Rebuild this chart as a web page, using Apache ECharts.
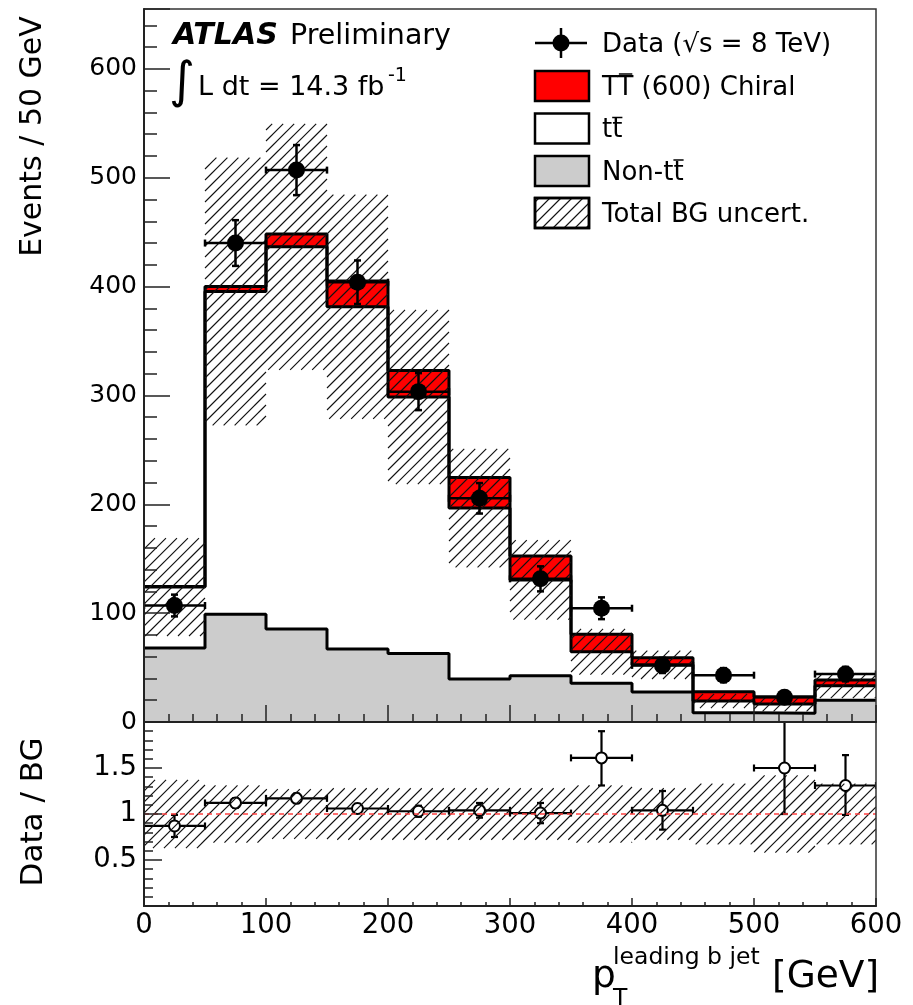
<!DOCTYPE html>
<html>
<head>
<meta charset="utf-8">
<script src="https://cdn.jsdelivr.net/npm/echarts@6/dist/echarts.min.js"></script>
<style>
html, body { margin: 0; padding: 0; background: #fff; }
#chart { width: 913px; height: 1005px; }
</style>
</head>
<body>
<div id="chart"></div>
<script>
// bins of 50 GeV
const binLow = [0, 50, 100, 150, 200, 250, 300, 350, 400, 450, 500, 550];
const binWidth = 50;

// stacked histograms (events / bin)
const nonTtbar = [68, 99, 85.5, 67, 63, 39.5, 42.5, 35.5, 27.5, 8.5, 8, 20];
const ttbar    = [56, 296.5, 351, 314.5, 235.5, 157, 88, 29, 25, 10.8, 8.5, 13.4];
const signalTT = [0.5, 4.6, 11.8, 23.6, 24.4, 28, 22, 16, 6.6, 8.5, 6.7, 5.2];
const bgUncert = [45, 123, 113, 103, 80, 54.5, 36.5, 21, 13, 6.5, 6.8, 11.5];

// data
const dataVals = [107, 440, 507, 404, 303.5, 205.5, 131.5, 104.5, 52, 43, 22.7, 44];
const dataErr  = [10, 21, 23, 20, 17, 14, 11.5, 10, 7, 6.5, 4.8, 6.6];

// ratio panel (null = off scale)
const ratioVals  = [0.87, 1.12, 1.17, 1.06, 1.03, 1.04, 1.01, 1.61, 1.04, null, 1.50, 1.31];
const ratioErrUp = [0.12, 0.05, 0.05, 0.05, 0.06, 0.08, 0.11, 0.29, 0.21, null, 0.55, 0.33];
const ratioErrDn = [0.12, 0.05, 0.05, 0.05, 0.06, 0.08, 0.11, 0.30, 0.21, null, 0.50, 0.32];
const ratioBand  = [0.37, 0.31, 0.27, 0.28, 0.28, 0.28, 0.28, 0.31, 0.28, 0.33, 0.42, 0.33];

const FONT = 'DejaVu Sans';
const HATCH = 11;

const bgTotal = nonTtbar.map((v, i) => v + ttbar[i]);
const sigTotal = bgTotal.map((v, i) => v + signalTT[i]);

function stepData(vals) {
  const pts = binLow.map((x, i) => [x, vals[i]]);
  pts.push([binLow[binLow.length - 1] + binWidth, vals[vals.length - 1]]);
  return pts;
}

// diagonal hatch lines inside a pixel rect
function hatchLines(x0, y0, x1, y1) {
  const out = [];
  const kMin = Math.ceil((x0 + y0) / HATCH) * HATCH;
  for (let k = kMin; k <= x1 + y1; k += HATCH) {
    const xa = Math.max(x0, k - y1), xb = Math.min(x1, k - y0);
    if (xb - xa > 0.5) {
      out.push({type: 'line', shape: {x1: xa, y1: k - xa, x2: xb, y2: k - xb},
        style: {stroke: '#111', lineWidth: 1.1}});
    }
  }
  return out;
}

function stackItem(params, api) {
  const lo = api.value(0), hi = api.value(1);
  const lv = [0, api.value(2), api.value(3), api.value(4)];
  const cols = ['#cccccc', '#ffffff', '#ff0000'];
  const kids = [];
  for (let j = 0; j < 3; j++) {
    const a = api.coord([lo, lv[j + 1]]), b = api.coord([hi, lv[j]]);
    kids.push({type: 'rect', shape: {x: a[0], y: a[1], width: b[0] - a[0], height: b[1] - a[1]},
      style: {fill: cols[j]}});
  }
  return {type: 'group', children: kids};
}

function hatchItem(params, api) {
  const a = api.coord([api.value(0), api.value(3)]);
  const b = api.coord([api.value(1), api.value(2)]);
  return {type: 'group', children: hatchLines(a[0], a[1], b[0], b[1])};
}

function pointItem(open, r) {
  return function (params, api) {
    const xc = api.value(0), v = api.value(1);
    const eu = api.value(2), ed = api.value(3);
    const xl = api.value(4), xh = api.value(5);
    const c = api.coord([xc, v]);
    const L = api.coord([xl, v]), H = api.coord([xh, v]);
    const U = api.coord([xc, v + eu]), D = api.coord([xc, v - ed]);
    const st = {stroke: '#000', lineWidth: open ? 2.2 : 2.5};
    const cap = 3.5;
    const kids = [
      {type: 'line', shape: {x1: L[0], y1: c[1], x2: H[0], y2: c[1]}, style: st},
      {type: 'line', shape: {x1: L[0], y1: c[1] - cap, x2: L[0], y2: c[1] + cap}, style: st},
      {type: 'line', shape: {x1: H[0], y1: c[1] - cap, x2: H[0], y2: c[1] + cap}, style: st},
      {type: 'line', shape: {x1: c[0], y1: U[1], x2: c[0], y2: D[1]}, style: st},
      {type: 'line', shape: {x1: c[0] - cap, y1: U[1], x2: c[0] + cap, y2: U[1]}, style: st},
      {type: 'line', shape: {x1: c[0] - cap, y1: D[1], x2: c[0] + cap, y2: D[1]}, style: st},
      {type: 'circle', shape: {cx: c[0], cy: c[1], r: r},
        style: open ? {fill: '#fff', stroke: '#000', lineWidth: 2} : {fill: '#000'}}
    ];
    return {type: 'group', children: kids};
  };
}

const mainPoints = binLow.map((x, i) => [x + binWidth / 2, dataVals[i], dataErr[i], dataErr[i], x, x + binWidth]);
const ratioPoints = [];
binLow.forEach((x, i) => {
  if (ratioVals[i] != null) {
    ratioPoints.push([x + binWidth / 2, ratioVals[i], ratioErrUp[i], ratioErrDn[i], x, x + binWidth]);
  }
});

// text helpers
const mctx = document.createElement('canvas').getContext('2d');
function textW(s, size, weight, style) {
  mctx.font = (style || 'normal') + ' ' + (weight || 'normal') + ' ' + size + 'px "' + FONT + '"';
  return mctx.measureText(s).width;
}
function txt(x, ymid, s, size, extra, el) {
  return Object.assign({type: 'text', x: x, y: ymid, z: 100,
    style: Object.assign({text: s, fontFamily: FONT, fontSize: size, fill: '#000',
      align: 'left', verticalAlign: 'middle'}, extra || {})}, el || {});
}
function hline(x1, x2, y, w) {
  return {type: 'line', z: 100, shape: {x1: x1, y1: y, x2: x2, y2: y}, style: {stroke: '#000', lineWidth: w || 1.5}};
}

// legend
const LX = 535, LW = 54, LH = 30, TX = 602, LFS = 26;
const rowY = [43, 86, 128.5, 171, 213];
const graphics = [];
graphics.push({type: 'line', z: 100, shape: {x1: LX, y1: rowY[0], x2: LX + 52, y2: rowY[0]}, style: {stroke: '#000', lineWidth: 2.5}});
graphics.push({type: 'line', z: 100, shape: {x1: LX + 26, y1: rowY[0] - 15, x2: LX + 26, y2: rowY[0] + 15}, style: {stroke: '#000', lineWidth: 2.5}});
graphics.push({type: 'circle', z: 101, shape: {cx: LX + 26, cy: rowY[0], r: 8.5}, style: {fill: '#000'}});
const boxFill = ['#ff0000', '#ffffff', '#cccccc', '#ffffff'];
for (let j = 0; j < 4; j++) {
  const y0 = rowY[j + 1] - LH / 2;
  graphics.push({type: 'rect', z: 100, shape: {x: LX, y: y0, width: LW, height: LH},
    style: {fill: boxFill[j], stroke: '#000', lineWidth: 2.5}});
}
hatchLines(LX, rowY[4] - LH / 2, LX + LW, rowY[4] + LH / 2).forEach(l => { l.z = 101; graphics.push(l); });
graphics.push({type: 'rect', z: 102, shape: {x: LX, y: rowY[4] - LH / 2, width: LW, height: LH},
  style: {fill: 'none', stroke: '#000', lineWidth: 2.5}});

const legendText = ['Data (\u221As = 8 TeV)', 'TT (600) Chiral', 'tt', 'Non-tt', 'Total BG uncert.'];
legendText.forEach((s, j) => graphics.push(txt(TX, rowY[j] + 2, s, LFS)));
// overlines (anti-particle bars)
graphics.push(hline(TX + textW('T', LFS) + 1, TX + textW('TT', LFS) - 1, rowY[1] - 12));
graphics.push(hline(TX + textW('t', LFS), TX + textW('tt', LFS), rowY[2] - 11));
graphics.push(hline(TX + textW('Non-t', LFS), TX + textW('Non-tt', LFS), rowY[3] - 11));

// ATLAS label
graphics.push(txt(173, 36, 'ATLAS', 30, {fontWeight: 'bold', fontStyle: 'italic'}));
graphics.push(txt(290, 37, 'Preliminary', 28.5));
graphics.push(txt(169, 84, '\u222B', 50));
graphics.push(txt(198, 88, 'L dt = 14.3 fb', 27));
graphics.push(txt(388, 76, '-1', 19));

// axis titles
graphics.push(txt(33, 136.5, 'Events / 50 GeV', 30, {align: 'center'}, {rotation: Math.PI / 2}));
graphics.push(txt(33.5, 812, 'Data / BG', 31, {align: 'center'}, {rotation: Math.PI / 2}));
graphics.push(txt(592, 977, 'p', 37.5));
graphics.push(txt(613, 958, 'leading b jet', 23.5));
graphics.push(txt(613, 999, 'T', 23.5));
graphics.push(txt(772, 977, '[GeV]', 37.5));

const axisCol = '#222';
function xAxisCfg(grid, tickLen, minorLen, showLabel) {
  return {
    type: 'value', gridIndex: grid, min: 0, max: 600, interval: 100, z: 10,
    axisLine: {onZero: false, lineStyle: {color: axisCol, width: 2}},
    axisTick: {inside: true, length: tickLen, lineStyle: {color: axisCol, width: 1.5}},
    minorTick: {show: true, splitNumber: 5, length: minorLen, lineStyle: {color: axisCol, width: 1.5}},
    splitLine: {show: false},
    axisLabel: {show: showLabel, margin: 6, color: '#000', fontFamily: FONT, fontSize: 27.5}
  };
}

const option = {
  animation: false,
  backgroundColor: '#fff',
  grid: [
    {left: 144, top: 9, width: 732, height: 713, show: true, borderColor: '#333', borderWidth: 1.5, backgroundColor: 'transparent', z: 10},
    {left: 144, top: 722, width: 732, height: 184, show: true, borderColor: '#333', borderWidth: 1.5, backgroundColor: 'transparent', z: 10}
  ],
  xAxis: [xAxisCfg(0, 17, 8, false), xAxisCfg(1, 8, 4, true)],
  yAxis: [
    {
      type: 'value', gridIndex: 0, position: 'left', min: 0, max: 655, interval: 100, z: 10,
      axisLine: {lineStyle: {color: axisCol, width: 2}},
      axisTick: {inside: true, length: 26, lineStyle: {color: axisCol, width: 1.5}},
      splitLine: {show: false},
      axisLabel: {margin: 7, color: '#000', fontFamily: FONT, fontSize: 25,
        formatter: v => (v % 100 === 0 ? String(v) : '')}
    },
    {
      type: 'value', gridIndex: 0, position: 'left', min: 0, max: 655, interval: 20, z: 10,
      axisLine: {show: false},
      axisTick: {inside: true, length: 13, lineStyle: {color: axisCol, width: 1.5}},
      splitLine: {show: false},
      axisLabel: {show: false}
    },
    {
      type: 'value', gridIndex: 1, position: 'left', min: 0, max: 2, interval: 0.5, z: 10,
      axisLine: {lineStyle: {color: axisCol, width: 2}},
      axisTick: {inside: true, length: 18, lineStyle: {color: axisCol, width: 1.5}},
      minorTick: {show: true, splitNumber: 5, length: 9, lineStyle: {color: axisCol, width: 1.5}},
      splitLine: {show: false},
      axisLabel: {margin: 7, color: '#000', fontFamily: FONT, fontSize: 27.5,
        formatter: v => (v > 0 && v < 2 ? String(v) : '')}
    }
  ],
  series: [
    {type: 'custom', xAxisIndex: 0, yAxisIndex: 0, z: 1, clip: true, renderItem: stackItem,
      data: binLow.map((x, i) => [x, x + binWidth, nonTtbar[i], bgTotal[i], sigTotal[i]])},
    {type: 'line', xAxisIndex: 0, yAxisIndex: 0, z: 2, step: 'end', symbol: 'none',
      data: stepData(sigTotal), lineStyle: {color: '#000', width: 3}},
    {type: 'line', xAxisIndex: 0, yAxisIndex: 0, z: 2, step: 'end', symbol: 'none',
      data: stepData(bgTotal), lineStyle: {color: '#000', width: 3}},
    {type: 'line', xAxisIndex: 0, yAxisIndex: 0, z: 2, step: 'end', symbol: 'none',
      data: stepData(nonTtbar), lineStyle: {color: '#000', width: 3}},
    {type: 'custom', xAxisIndex: 0, yAxisIndex: 0, z: 3, clip: true, renderItem: hatchItem,
      data: binLow.map((x, i) => [x, x + binWidth, bgTotal[i] - bgUncert[i], bgTotal[i] + bgUncert[i]])},
    {type: 'custom', xAxisIndex: 0, yAxisIndex: 0, z: 4, clip: true, renderItem: pointItem(false, 8.5),
      data: mainPoints},
    {type: 'custom', xAxisIndex: 1, yAxisIndex: 2, z: 3, clip: true, renderItem: pointItem(true, 5.5),
      data: ratioPoints},
    {type: 'custom', xAxisIndex: 1, yAxisIndex: 2, z: 4, clip: true, renderItem: hatchItem,
      data: binLow.map((x, i) => [x, x + binWidth, 1 - ratioBand[i], 1 + ratioBand[i]])},
    {type: 'line', xAxisIndex: 1, yAxisIndex: 2, z: 5, symbol: 'none',
      data: [[0, 1], [600, 1]], lineStyle: {color: '#ff4040', width: 1.5, type: [5, 4]}}
  ],
  graphic: graphics
};

const chart = echarts.init(document.getElementById('chart'));
chart.setOption(option);
</script>
</body>
</html>
